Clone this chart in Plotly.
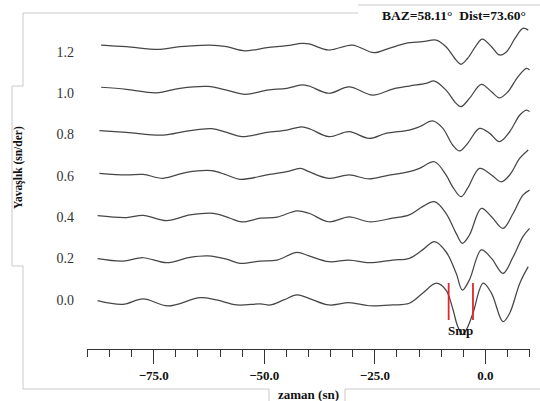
import plotly.graph_objects as go

# ---- data ----
offsets = [0.0, 0.2, 0.4, 0.6, 0.8, 1.0, 1.2]
offset_labels = ["0.0", "0.2", "0.4", "0.6", "0.8", "1.0", "1.2"]

t_00 = [-87.7, -82.0, -77.4, -71.8, -64.5, -60.8, -56.2, -50.9, -48.6, -45.6, -42.6, -39.9, -35.4, -30.8, -26.3,
        -21.0, -17.2, -14.2, -11.1, -8.9, -7.4, -6.3, -5.2, -4.2, -2.8, -0.5, 1.4, 4.0, 5.5, 7.8, 9.7]
a_00 = [-0.003, -0.021, 0.005, -0.029, 0.011, 0.000, -0.024, -0.019, -0.024, 0.000, 0.024, 0.008, -0.024, -0.013,
        -0.028, -0.024, -0.016, 0.032, 0.081, 0.048, -0.040, -0.125, -0.168, -0.140, -0.064, 0.081, 0.032, -0.105,
        -0.064, 0.081, 0.161]

t_02 = [-87.7, -82.0, -77.4, -72.1, -66.8, -62.7, -58.5, -55.5, -50.9, -47.1, -42.6, -39.9, -35.4, -30.8, -26.3,
        -21.0, -17.2, -14.2, -11.5, -8.9, -6.6, -5.2, -3.6, -0.9, 1.4, 4.0, 6.3, 8.5, 10.0]
a_02 = [0.000, -0.012, 0.004, -0.020, 0.006, 0.013, -0.003, -0.023, -0.012, -0.007, 0.030, 0.013, -0.015, -0.007,
        -0.020, -0.007, 0.001, 0.042, 0.082, 0.033, -0.071, -0.152, -0.103, 0.042, 0.001, -0.071, 0.009, 0.106, 0.146]

t_04 = [-87.7, -81.2, -77.4, -72.1, -66.8, -61.5, -57.7, -55.1, -50.9, -47.1, -42.6, -39.9, -35.4, -30.8, -26.3,
        -21.0, -17.2, -14.2, -11.5, -8.9, -6.6, -5.2, -3.6, -0.9, 1.4, 4.0, 6.3, 8.5, 10.0]
a_04 = [0.007, -0.002, 0.009, -0.017, 0.011, 0.019, -0.005, -0.023, -0.005, 0.000, 0.031, 0.019, -0.022, 0.002,
        -0.022, -0.005, 0.011, 0.051, 0.075, 0.019, -0.078, -0.126, -0.086, 0.043, 0.002, -0.054, 0.019, 0.107, 0.131]

t_06 = [-87.3, -81.2, -77.4, -72.9, -67.6, -61.9, -58.5, -55.5, -49.4, -44.9, -41.8, -39.9, -35.4, -30.8, -26.3,
        -22.5, -17.2, -14.9, -11.5, -8.9, -7.4, -5.5, -4.0, -1.3, 1.4, 3.6, 5.5, 7.8, 9.7]
a_06 = [0.012, 0.004, 0.007, -0.012, 0.017, 0.025, 0.004, -0.017, 0.004, 0.020, 0.036, 0.020, -0.012, 0.004,
        -0.015, 0.000, 0.020, 0.036, 0.068, 0.004, -0.053, -0.101, -0.060, 0.036, 0.004, -0.029, 0.004, 0.085, 0.125]

t_08 = [-87.3, -81.2, -72.9, -67.6, -61.9, -58.5, -55.1, -49.4, -44.9, -41.5, -39.5, -35.4, -30.8, -26.3, -22.5,
        -17.2, -14.9, -11.9, -9.6, -7.4, -5.8, -4.0, -1.3, 1.0, 3.2, 5.5, 7.8, 9.3, 10.0]
a_08 = [0.018, 0.010, -0.003, 0.016, 0.028, 0.010, -0.011, 0.010, 0.021, 0.037, 0.025, -0.011, 0.013, -0.019,
        0.005, 0.021, 0.037, 0.065, 0.029, -0.051, -0.080, -0.043, 0.029, 0.005, -0.035, 0.013, 0.094, 0.118, 0.110]

t_10 = [-86.9, -81.2, -74.4, -69.1, -62.7, -58.5, -54.3, -49.4, -44.9, -41.5, -39.9, -35.4, -30.8, -25.5, -21.0,
        -17.2, -13.4, -11.5, -8.9, -6.6, -5.5, -3.6, -0.9, 1.4, 3.2, 5.1, 7.4, 9.3, 10.0]
a_10 = [0.028, 0.018, 0.001, 0.023, 0.032, 0.014, -0.006, 0.014, 0.023, 0.039, 0.034, -0.001, 0.030, -0.010,
        0.019, 0.034, 0.047, 0.058, 0.014, -0.050, -0.066, -0.026, 0.042, 0.006, -0.023, 0.006, 0.079, 0.119, 0.111]

t_12 = [-86.9, -81.2, -73.6, -69.1, -62.3, -58.5, -54.3, -49.4, -44.9, -41.5, -39.9, -35.4, -30.1, -25.2, -21.8,
        -18.0, -14.2, -11.1, -8.9, -6.6, -5.5, -4.0, -2.0, -0.7, 1.4, 3.2, 4.8, 6.7, 8.5, 9.7]
a_12 = [0.032, 0.024, 0.011, 0.024, 0.032, 0.024, 0.004, 0.019, 0.029, 0.040, 0.038, 0.008, 0.032, -0.005,
        0.016, 0.040, 0.048, 0.056, 0.024, -0.041, -0.061, -0.032, 0.032, 0.061, 0.024, -0.016, 0.000, 0.064,
        0.113, 0.104]

times = [t_00, t_02, t_04, t_06, t_08, t_10, t_12]
amps = [a_00, a_02, a_04, a_06, a_08, a_10, a_12]

x_tick_vals = [-75, -50, -25, 0]
smp_times = [-8.3, -2.8]          # red picks on the 0.0 trace
smp_y = [0.082, -0.097]
smp_label = "Smp"
header = "BAZ=58.11°  Dist=73.60°"
x_title = "zaman (sn)"
y_title = "Yavaşlık (sn/der)"

SERIF = "'Liberation Serif', Tinos, 'Times New Roman', Times, serif"

# ---- figure ----
W, H = 540, 401
ML, MR, MT, MB = 87, 10, 20, 52
fig = go.Figure()

for off, t, a in zip(offsets, times, amps):
    fig.add_trace(go.Scatter(
        x=t, y=[off + v for v in a], mode="lines",
        line=dict(color="#464646", width=1.25, shape="spline", smoothing=1.0),
        showlegend=False, hoverinfo="skip"))

for ts in smp_times:
    fig.add_trace(go.Scatter(
        x=[ts, ts], y=smp_y, mode="lines",
        line=dict(color="#e3262b", width=1.8),
        showlegend=False, hoverinfo="skip"))

fig.add_annotation(x=(smp_times[0] + smp_times[1]) / 2, y=smp_y[1], text="<b>%s</b>" % smp_label,
                   showarrow=False, xanchor="center", yanchor="top", yshift=-1,
                   font=dict(family=SERIF, size=13, color="#111"))

PW, PH = W - ML - MR, H - MT - MB


def px(xp):
    return (xp - ML) / PW


def py(yp):
    return (H - MB - yp) / PH


frame = "#c9c9c9"
segs = [
    (23, 13, 358, 13), (358, 5, 540, 5),
    (23, 13, 23, 86), (12, 86, 23, 86), (12, 86, 12, 266), (12, 266, 23, 266), (23, 266, 23, 389),
    (23, 389, 269, 389), (269, 389, 269, 401), (345, 389, 345, 401), (345, 389, 540, 389),
]
for x0, y0, x1, y1 in segs:
    fig.add_shape(type="line", xref="paper", yref="paper",
                  x0=px(x0), y0=py(y0), x1=px(x1), y1=py(y1),
                  line=dict(color=frame, width=1))

fig.add_annotation(xref="paper", yref="paper", x=px(454), y=py(15), xanchor="center", yanchor="middle",
                   text="<b>%s</b>" % header,
                   showarrow=False, font=dict(family=SERIF, size=13.5, color="#111"))
fig.add_annotation(xref="paper", yref="paper", x=px(308), y=py(394), xanchor="center", yanchor="middle",
                   text="<b>%s</b>" % x_title,
                   showarrow=False, font=dict(family=SERIF, size=13, color="#111"))
fig.add_annotation(xref="paper", yref="paper", x=px(19), y=py(168), xanchor="center", yanchor="middle",
                   text="<b>%s</b>" % y_title,
                   textangle=-90, showarrow=False,
                   font=dict(family=SERIF, size=11.5, color="#111"))

fig.update_layout(
    width=W, height=H, margin=dict(l=ML, r=MR, t=MT, b=MB),
    paper_bgcolor="white", plot_bgcolor="white",
    xaxis=dict(range=[-90.1, 10.1], showgrid=False, zeroline=False,
               showline=True, linecolor="#333", linewidth=1,
               tickvals=x_tick_vals, tickformat=".1f",
               ticks="outside", ticklen=14, tickcolor="#333", tickwidth=1,
               minor=dict(dtick=5, tick0=0, ticks="outside", ticklen=7, tickcolor="#333", tickwidth=1),
               tickfont=dict(family=SERIF, size=13, color="#111", weight="bold"),
               ticklabelstandoff=0),
    yaxis=dict(range=[-0.237, 1.353], showgrid=False, zeroline=False, showline=False,
               tickvals=offsets, ticktext=offset_labels, ticks="",
               tickfont=dict(family=SERIF, size=14, color="#333"),
               ticklabelstandoff=12),
)

fig.write_html("out.html", config={"displayModeBar": False},
               post_script="document.body.style.margin='0';document.body.style.padding='0';")
